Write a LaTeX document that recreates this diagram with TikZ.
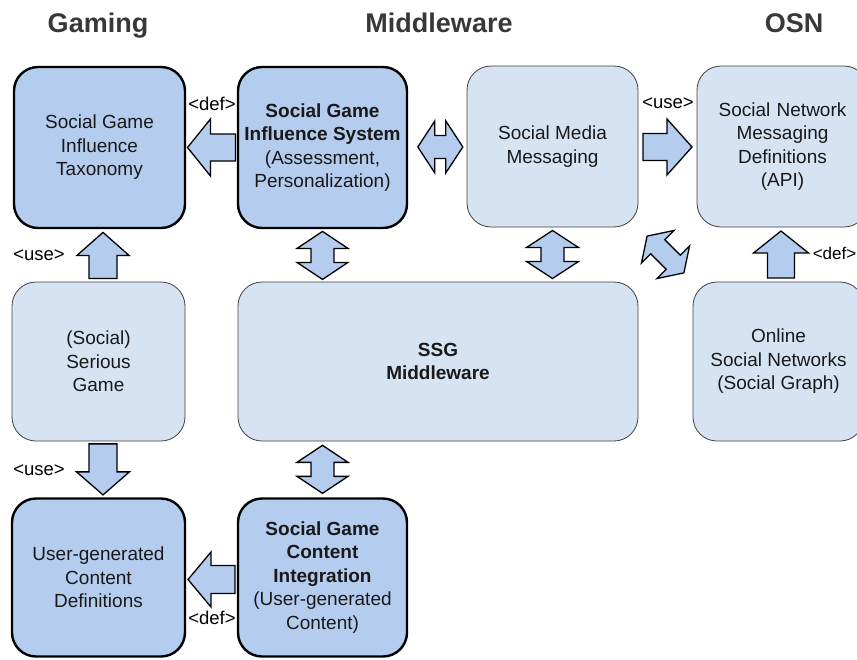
\documentclass[tikz,border=0pt]{standalone}
\usepackage{fontspec}
\setmainfont{Liberation Sans}
\usetikzlibrary{calc}
\definecolor{darkfill}{RGB}{180,204,238}
\definecolor{lightfill}{RGB}{214,227,243}
\definecolor{arrowfill}{RGB}{180,204,238}
\tikzset{
  boxtext/.style={align=center, inner sep=0pt, text=black!90, font=\fontsize{19}{23.5}\selectfont},
  darkbox/.style={boxtext, draw=black, line width=2.4pt, fill=darkfill, rounded corners=24pt},
  lightbox/.style={boxtext, draw=black!75, line width=0.8pt, fill=lightfill, rounded corners=24pt},
  blockarrow/.style={draw=black, line width=1.3pt, fill=arrowfill, line join=miter},
  lbl/.style={font=\fontsize{18.5}{20}\selectfont, inner sep=0pt, text=black},
  hdr/.style={font=\fontsize{27}{30}\selectfont\bfseries, text=black!78, inner sep=0pt}
}
% single block arrow: #1 centre, #2 angle, #3 length, #4 head width, #5 shaft width, #6 head length
\newcommand\sarr[6]{%
  \draw[blockarrow, shift={#1}, rotate=#2]
    (-#3/2,#5/2) -- (#3/2-#6,#5/2) -- (#3/2-#6,#4/2) -- (#3/2,0)
    -- (#3/2-#6,-#4/2) -- (#3/2-#6,-#5/2) -- (-#3/2,-#5/2) -- cycle;}
% double block arrow
\newcommand\darr[6]{%
  \draw[blockarrow, shift={#1}, rotate=#2]
    (-#3/2,0) -- (-#3/2+#6,#4/2) -- (-#3/2+#6,#5/2) -- (#3/2-#6,#5/2)
    -- (#3/2-#6,#4/2) -- (#3/2,0) -- (#3/2-#6,-#4/2) -- (#3/2-#6,-#5/2)
    -- (-#3/2+#6,-#5/2) -- (-#3/2+#6,-#4/2) -- cycle;}
\begin{document}
\begin{tikzpicture}[x=1pt,y=-1pt]
\useasboundingbox (0,0) rectangle (857,659);

% headers
\node[hdr, anchor=base] (hgaming) at (98,32) {Gaming};
\node[hdr, anchor=base] (hmid) at (439,32) {Middleware};
\node[hdr, anchor=base] (hosn) at (794,32) {OSN};

% boxes
\node[darkbox, minimum width=171pt, minimum height=161pt] (tax) at (99.5,147.5)
  {Social Game\\Influence\\Taxonomy};
\node[darkbox, minimum width=169pt, minimum height=161pt] (sgis) at (322.5,147.5)
  {\textbf{Social Game}\\\textbf{Influence System}\\(Assessment,\\Personalization)};
\node[lightbox, minimum width=171pt, minimum height=161pt] (smm) at (552.5,146.5)
  {Social Media\\Messaging};
\node[lightbox, minimum width=171pt, minimum height=161pt, text width=171pt] (snmd) at (782.5,146.5)
  {Social Network\\Messaging\\Definitions\\(API)};
\node[lightbox, minimum width=173pt, minimum height=159pt] (sg) at (98.5,361.5)
  {(Social)\\Serious\\Game};
\node[lightbox, minimum width=400pt, minimum height=159pt] (ssg) at (438,361.5)
  {\textbf{SSG}\\\textbf{Middleware}};
\node[lightbox, minimum width=171pt, minimum height=159pt] (osn) at (778.5,361.5)
  {Online\\Social Networks\\(Social Graph)};
\node[darkbox, minimum width=173pt, minimum height=158pt] (ugc) at (98.5,577.5)
  {User-generated\\Content\\Definitions};
\node[darkbox, minimum width=169pt, minimum height=158pt] (sgci) at (322.5,577.5)
  {\textbf{Social Game}\\\textbf{Content}\\\textbf{Integration}\\(User-generated\\Content)};

% block arrows
\sarr{($(sgis.west)!0.5!(tax.east)$)}{180}{48}{57}{27}{23}
\darr{($(sgis.east)!0.55!(smm.west)$)}{0}{45}{52}{23}{17}
\sarr{($(smm.east)!0.5!(snmd.west)+(0,0.5)$)}{0}{49}{56}{27}{25}
\sarr{($(sg.north)!0.5!(tax.south)+(4,0)$)}{90}{46}{52}{28}{23}
\darr{($(sgis.south)!0.5!(sgis.south|-ssg.north)$)}{90}{48}{51}{23}{17}
\darr{($(smm.south)!0.5!(smm.south|-ssg.north)$)}{90}{48}{52}{23}{17}
\darr{($(smm.south east)!0.5!(osn.north west)$)}{-45}{52}{46}{20}{15}
\sarr{($(osn.north)!0.5!(osn.north|-snmd.south)+(2.5,0)$)}{90}{47}{55}{27}{22}
\sarr{($(sg.south)!0.5!(ugc.north)+(4.5,0)$)}{-90}{51}{53}{28}{23}
\darr{($(ssg.south-|sgci.north)!0.5!(sgci.north)$)}{90}{48}{51}{23}{17}
\sarr{($(sgci.west)!0.5!(ugc.east)+(0,2)$)}{180}{47}{55}{28}{23}

% labels
\node[lbl] (l1) at (212,104) {<def>};
\node[lbl] (l2) at (668,103) {<use>};
\node[lbl] (l3) at (39,255) {<use>};
\node[lbl, anchor=east, font=\fontsize{17}{20}\selectfont] (l4) at (856.5,253) {<def>};
\node[lbl] (l5) at (39,470) {<use>};
\node[lbl] (l6) at (212,618) {<def>};
\end{tikzpicture}
\end{document}
